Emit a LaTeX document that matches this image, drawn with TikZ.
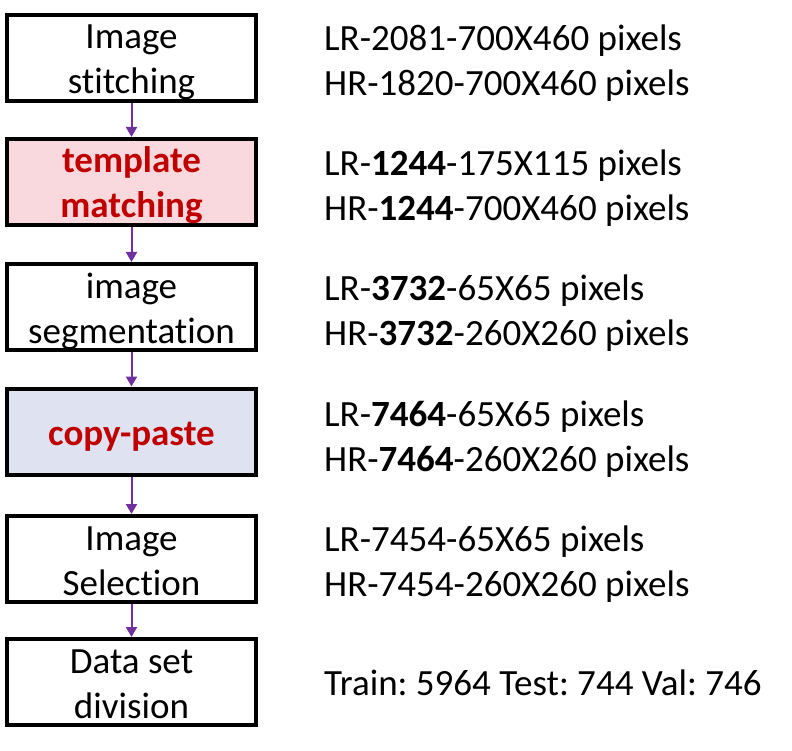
\documentclass[tikz,border=0pt]{standalone}
\usepackage{fontspec}
\setmainfont[Ligatures=NoCommon]{Carlito}
\usetikzlibrary{arrows.meta}
\frenchspacing
\definecolor{arrowpurple}{HTML}{7030A0}
\definecolor{darkred}{HTML}{C00000}
\definecolor{pinkfill}{HTML}{F9D9DD}
\definecolor{bluefill}{HTML}{DFE2F0}
\newcommand{\bigstrut}{\rule[-9pt]{0pt}{45pt}}
\newcommand{\bigsize}{\fontsize{37}{45}\selectfont}
\begin{document}
\begin{tikzpicture}[x=1pt,y=-1pt,
  stepbox/.style={draw=black, line width=4pt, minimum width=249pt, minimum height=86pt,
    inner xsep=0pt, inner ysep=-2pt, align=center, font=\bigsize},
  hlbox/.style={stepbox, text=darkred, font=\bigsize\bfseries},
  info/.style={anchor=base west, inner sep=0pt, align=left, font=\bigsize},
  arr/.style={draw=arrowpurple, line width=2pt, -{Triangle[width=11pt,length=10pt]}}
]
\useasboundingbox (0,0) rectangle (792,751);
% boxes
\node[stepbox] (b1) at (131.5,58) {\bigstrut Image\\\bigstrut stitching};
\node[hlbox, fill=pinkfill] (b2) at (131.5,182) {\bigstrut template\\\bigstrut matching};
\node[stepbox] (b3) at (131.5,307) {\bigstrut image\\\bigstrut segmentation};
\node[hlbox, fill=bluefill] (b4) at (131.5,431.5) {\bigstrut copy-paste};
\node[stepbox] (b5) at (131.5,559) {\bigstrut Image\\\bigstrut Selection};
\node[stepbox] (b6) at (131.5,682) {\bigstrut Data set\\\bigstrut division};
% arrows
\draw[arr] (b1.south) -- (b2.north);
\draw[arr] (b2.south) -- (b3.north);
\draw[arr] (b3.south) -- (b4.north);
\draw[arr] (b4.south) -- (b5.north);
\draw[arr] (b5.south) -- (b6.north);
% right texts (anchor at the baseline of the last line)
\node[info] (t1) at (324,96) {\bigstrut LR-2081-700X460 pixels\\\bigstrut HR-1820-700X460 pixels};
\node[info] (t2) at (324,221) {\bigstrut LR-\textbf{1244}-175X115 pixels\\\bigstrut HR-\textbf{1244}-700X460 pixels};
\node[info] (t3) at (324,345) {\bigstrut LR-\textbf{3732}-65X65 pixels\\\bigstrut HR-\textbf{3732}-260X260 pixels};
\node[info] (t4) at (324,471) {\bigstrut LR-\textbf{7464}-65X65 pixels\\\bigstrut HR-\textbf{7464}-260X260 pixels};
\node[info] (t5) at (324,596) {\bigstrut LR-7454-65X65 pixels\\\bigstrut HR-7454-260X260 pixels};
\node[info] (t6) at (324,695) {\bigstrut Train: 5964 Test: 744 Val: 746};
\end{tikzpicture}
\end{document}
